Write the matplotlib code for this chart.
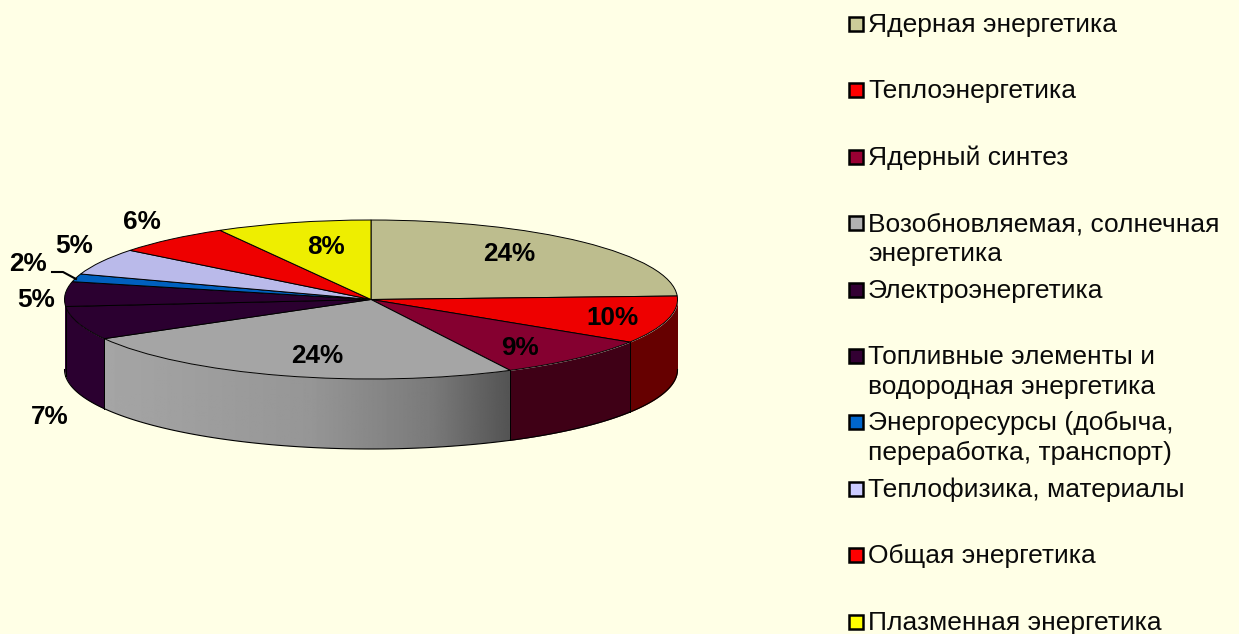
import numpy as np
import matplotlib
matplotlib.use('Agg')
import matplotlib.pyplot as plt
from matplotlib.lines import Line2D
from matplotlib.patches import Polygon, Rectangle

plt.rcParams['font.family'] = ['Liberation Sans', 'DejaVu Sans']

# data
names = ['Ядерная энергетика', 'Теплоэнергетика', 'Ядерный синтез',
         'Возобновляемая, солнечная\nэнергетика', 'Электроэнергетика',
         'Топливные элементы и\nводородная энергетика',
         'Энергоресурсы (добыча,\nпереработка, транспорт)',
         'Теплофизика, материалы', 'Общая энергетика', 'Плазменная энергетика']
shares = [24.3, 9.7, 8.5, 24.3, 6.8, 5.0, 1.6, 5.4, 6.2, 8.2]
pct_labels = ['24%', '10%', '9%', '24%', '7%', '5%', '2%', '5%', '6%', '8%']

# styles
bg = '#FFFFE6'
top_colors = ['#BDBD8E', '#EE0000', '#850030', '#A5A5A5', '#2B0030',
              '#2B0030', '#0060BE', '#BABAEA', '#EE0000', '#EEEE00']
side_colors = ['#66664A', '#660000', '#3F0016', None, '#2B0030',
               '#2B0030', '#003060', '#5F5F78', '#660000', '#777700']
legend_colors = ['#CCCC99', '#FF0000', '#990033', '#B2B2B2', '#330033',
                 '#330033', '#0066CC', '#CCCCFF', '#FF0000', '#FFFF00']
pct_pos = [(509, 254), (612, 318), (520, 348), (317, 356), (50, 417),
           (36, 300), (28, 264), (74, 246), (142, 222), (326, 247)]

W, H = 1239, 634
cx, cy, rx, ry = 371, 299.5, 306.5, 79.5
depth = 70 / ry

fig = plt.figure(figsize=(W / 100, H / 100), dpi=100, facecolor=bg)
ax = fig.add_axes([0, 0, 1, 1])


def px(x, y):
    return x / W, 1 - y / H


# side wall, front half only
edges = np.cumsum([0] + shares) * 3.6
for i in range(len(shares)):
    a = max(edges[i], 90)
    b = min(edges[i + 1], 270)
    if b <= a:
        continue
    th = np.radians(np.linspace(a, b, 100))
    xs = np.sin(th)
    ys = np.cos(th)
    if side_colors[i] is None:
        # gray slice has a left to right gradient, clipped to the wall shape
        wall = Polygon(np.r_[np.c_[xs, ys], np.c_[xs[::-1], ys[::-1] - depth]],
                       closed=True, transform=ax.transData, fc='none', ec='none')
        ax.add_patch(wall)
        gx = np.linspace(xs.min(), xs.max(), 400)
        shade = np.interp(gx, [-0.868, -0.2, 0.2, 0.4535], [165, 150, 122, 84])
        im = ax.imshow(shade[np.newaxis, :], cmap='gray', vmin=0, vmax=255, aspect='auto',
                       extent=(xs.min(), xs.max(), (ys - depth).min(), ys.max()), zorder=1)
        im.set_clip_path(wall)
    else:
        ax.fill_between(xs, ys, ys - depth, color=side_colors[i], lw=0, zorder=1)
    ax.plot(xs, ys - depth, color='black', lw=0.8, zorder=2)
    # dividers between slices, not at the silhouette
    for k, ang in ((0, a), (-1, b)):
        if ang not in (90, 270):
            ax.plot([xs[k], xs[k]], [ys[k], ys[k] - depth], color='black', lw=0.7, zorder=2)

# top face
wedges, _ = ax.pie(shares, colors=top_colors, startangle=90, counterclock=False,
                   wedgeprops={'edgecolor': 'black', 'linewidth': 0.7, 'zorder': 3})
ax.set_aspect('auto')
ax.set_xlim(-cx / rx, (W - cx) / rx)
ax.set_ylim(-(H - cy) / ry, cy / ry)
ax.axis('off')

# percent labels
for lab, (x, y) in zip(pct_labels, pct_pos):
    fx, fy = px(x, y)
    fig.text(fx, fy, lab, fontsize=18.8, fontweight='bold', color='black',
             ha='center', va='center', zorder=6)

# leader for the 2% label
lx, ly = zip(px(52, 272), px(63, 272), px(76, 279))
fig.add_artist(Line2D(lx, ly, color='black', lw=1.5))

# legend
for i, name in enumerate(names):
    yc = 24 + i * 66.4
    fx, fy = px(848.5, yc + 7)
    fig.add_artist(Rectangle((fx, fy), 14 / W, 14 / H, transform=fig.transFigure,
                             facecolor=legend_colors[i], edgecolor='black', lw=1.8))
    for j, line in enumerate(name.split('\n')):
        fx, fy = px(868, yc + 8 + j * 30)
        fig.text(fx, fy, line, fontsize=19, color='#0A0A0A', ha='left', va='baseline')

fig.savefig('out.png', dpi=100, facecolor=bg)
